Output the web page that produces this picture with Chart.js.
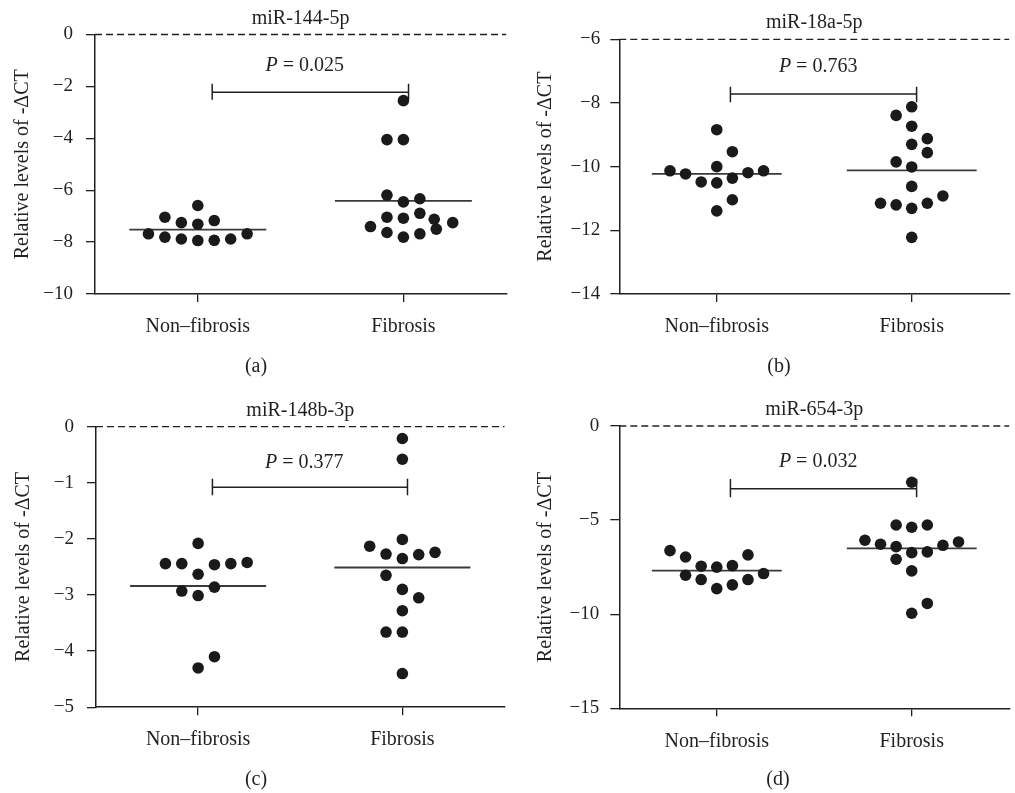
<!DOCTYPE html>
<html>
<head>
<meta charset="utf-8">
<title>miRNA levels, fibrosis vs non-fibrosis</title>
<script src="https://cdn.jsdelivr.net/npm/chart.js@4.4.1/dist/chart.umd.min.js"></script>
<style>
  html, body { margin: 0; padding: 0; background: #fff; }
  #wrap { position: relative; width: 1015px; height: 793px; overflow: hidden; }
  canvas { position: absolute; }
</style>
</head>
<body>
<div id="wrap">
  <canvas id="pa" width="512" height="390" style="left:0;top:0"></canvas>
  <canvas id="pb" width="503" height="390" style="left:512px;top:0"></canvas>
  <canvas id="pc" width="512" height="403" style="left:0;top:390px"></canvas>
  <canvas id="pd" width="503" height="403" style="left:512px;top:390px"></canvas>
</div>
<script>
const groups = ['Non–fibrosis', 'Fibrosis'];
const yTitle = 'Relative levels of -ΔCT';

// miR-144-5p  [x position in group units, value]
const a144Non = [[1.00,-6.59],[0.84,-7.04],[0.92,-7.25],[1.00,-7.31],[1.08,-7.17],[0.76,-7.68],
                 [0.84,-7.81],[0.92,-7.88],[1.00,-7.94],[1.08,-7.93],[1.16,-7.88],[1.24,-7.68]];
const a144Fib = [[2.00,-2.55],[1.92,-4.05],[2.00,-4.05],[1.92,-6.19],[2.00,-6.45],[2.08,-6.33],
                 [1.92,-7.04],[2.00,-7.08],[2.08,-6.89],[2.15,-7.12],[2.24,-7.25],[1.84,-7.40],
                 [1.92,-7.63],[2.00,-7.81],[2.08,-7.68],[2.16,-7.50]];
const a144Means = [-7.52, -6.41];
const a144Ticks = [-10, -8, -6, -4, -2, 0];

// miR-18a-5p
const a18Non = [[1.00,-8.84],[1.08,-9.53],[1.00,-10.00],[0.76,-10.13],[0.84,-10.23],[0.92,-10.48],
                [1.00,-10.51],[1.08,-10.36],[1.16,-10.19],[1.24,-10.13],[1.08,-11.04],[1.00,-11.39]];
const a18Fib = [[2.00,-8.12],[1.92,-8.39],[2.00,-8.73],[2.08,-9.12],[2.00,-9.30],[2.08,-9.56],
                [1.92,-9.85],[2.00,-10.01],[2.00,-10.62],[2.16,-10.92],[1.84,-11.15],[1.92,-11.20],
                [2.00,-11.31],[2.08,-11.15],[2.00,-12.22]];
const a18Means = [-10.23, -10.12];
const a18Ticks = [-14, -12, -10, -8, -6];

// miR-148b-3p
const a148Non = [[1.00,-2.08],[0.84,-2.44],[0.92,-2.44],[1.08,-2.46],[1.16,-2.44],[1.24,-2.42],
                 [1.00,-2.63],[1.08,-2.86],[0.92,-2.93],[1.00,-3.01],[1.08,-4.10],[1.00,-4.30]];
const a148Fib = [[2.00,-0.21],[2.00,-0.58],[2.00,-2.01],[1.84,-2.13],[1.92,-2.27],[2.00,-2.35],
                 [2.08,-2.28],[2.16,-2.24],[1.92,-2.65],[2.00,-2.90],[2.08,-3.05],[2.00,-3.28],
                 [1.92,-3.66],[2.00,-3.66],[2.00,-4.40]];
const a148Means = [-2.84, -2.51];
const a148Ticks = [-5, -4, -3, -2, -1, 0];

// miR-654-3p
const a654Non = [[0.76,-6.62],[0.84,-6.96],[1.16,-6.85],[0.92,-7.45],[1.00,-7.50],[1.08,-7.42],
                 [0.84,-7.93],[1.24,-7.84],[0.92,-8.16],[1.16,-8.16],[1.08,-8.44],[1.00,-8.64]];
const a654Fib = [[2.00,-2.99],[1.92,-5.26],[2.00,-5.38],[2.08,-5.26],[1.76,-6.07],[1.84,-6.28],
                 [1.92,-6.41],[2.16,-6.34],[2.24,-6.16],[2.00,-6.73],[2.08,-6.69],[1.92,-7.08],
                 [2.00,-7.70],[2.08,-9.43],[2.00,-9.95]];
const a654Means = [-7.68, -6.50];
const a654Ticks = [-15, -10, -5, 0];

// p values and where the comparison bracket sits: [bar top, bar, bar bottom]
const pValues = ['0.025', '0.763', '0.377', '0.032'];
const pTextY = [-1.22, -6.86, -0.64, -1.89];
const brackets = [[-1.90, -2.23, -2.51], [-7.49, -7.72, -7.98], [-0.93, -1.08, -1.22], [-2.81, -3.33, -3.79]];

const ink = '#231f20';
const serif = "'Liberation Serif', 'Times New Roman', serif";

// pixel layout of each panel
const panels = [
  { id: 'pa', title: 'miR-144-5p',  tag: '(a)', non: a144Non, fib: a144Fib, means: a144Means, ticks: a144Ticks,
    yW: 95,    right: 509,   top: 34.5, bottom: 294,   yPad: 13, tPad: 10.3, tagX: 256, tagY: 367 },
  { id: 'pb', title: 'miR-18a-5p',  tag: '(b)', non: a18Non,  fib: a18Fib,  means: a18Means,  ticks: a18Ticks,
    yW: 107.3, right: 502,   top: 39.3, bottom: 294,   yPad: 10, tPad: 21.6, tagX: 267, tagY: 367 },
  { id: 'pc', title: 'miR-148b-3p', tag: '(c)', non: a148Non, fib: a148Fib, means: a148Means, ticks: a148Ticks,
    yW: 96,    right: 504.5, top: 36.7, bottom: 317.2, yPad: 13, tPad: 11.9, tagX: 256, tagY: 390 },
  { id: 'pd', title: 'miR-654-3p',  tag: '(d)', non: a654Non, fib: a654Fib, means: a654Means, ticks: a654Ticks,
    yW: 107.3, right: 502,   top: 36,   bottom: 318.3, yPad: 11, tPad: 21.6, tagX: 266, tagY: 390 }
];

const xAxisH = 50;

function annotPlugin(p, i) {
  return {
    id: 'annot' + i,
    afterDraw(chart) {
      const { ctx, chartArea, scales: { x, y } } = chart;
      ctx.save();
      ctx.fillStyle = ink;
      ctx.font = '20px ' + serif;
      ctx.textAlign = 'center';
      ctx.textBaseline = 'alphabetic';
      ctx.fillText(p.title, (chartArea.left + chartArea.right) / 2, chartArea.top - 11);
      ctx.textBaseline = 'middle';
      ctx.fillText(p.tag, p.tagX, p.tagY);

      // "P = ..." with italic P
      const px = x.getPixelForValue(1.52), py = y.getPixelForValue(pTextY[i]);
      const it = 'italic 20px ' + serif, rm = '20px ' + serif;
      const rest = ' = ' + pValues[i];
      ctx.font = it; const w1 = ctx.measureText('P').width;
      ctx.font = rm; const w2 = ctx.measureText(rest).width;
      const sx = px - (w1 + w2) / 2;
      ctx.textAlign = 'left';
      ctx.font = it; ctx.fillText('P', sx, py);
      ctx.font = rm; ctx.fillText(rest, sx + w1, py);
      ctx.restore();
    }
  };
}

panels.forEach((p, i) => {
  const canvas = document.getElementById(p.id);
  const W = canvas.width, H = canvas.height;
  const yMin = p.ticks[0], yMax = p.ticks[p.ticks.length - 1];
  const toPts = arr => arr.map(d => ({ x: d[0], y: d[1] }));
  const meanLine = (c, m) => [{ x: c - 0.333, y: m }, { x: c + 0.333, y: m }];
  const b = brackets[i], bl = 1.07, br = 2.025;

  new Chart(canvas, {
    type: 'scatter',
    data: {
      datasets: [
        { data: toPts(p.non).concat(toPts(p.fib)), pointRadius: 5.8, pointHoverRadius: 5.8,
          backgroundColor: '#1a1a1a', borderWidth: 0 },
        { data: meanLine(1, p.means[0]), showLine: true, pointRadius: 0, borderColor: '#3a3a3a', borderWidth: 1.8 },
        { data: meanLine(2, p.means[1]), showLine: true, pointRadius: 0, borderColor: '#3a3a3a', borderWidth: 1.8 },
        { data: [{ x: bl, y: b[0] }, { x: bl, y: b[2] }, { x: bl, y: b[1] }, { x: br, y: b[1] },
                 { x: br, y: b[0] }, { x: br, y: b[2] }],
          showLine: true, pointRadius: 0, borderColor: ink, borderWidth: 1.5 },
        { data: [{ x: 0.5, y: yMax }, { x: 2.5, y: yMax }], showLine: true, pointRadius: 0,
          borderColor: ink, borderWidth: 1.3, borderDash: [7, 4], clip: false }
      ]
    },
    options: {
      responsive: false,
      animation: false,
      devicePixelRatio: 1,
      events: [],
      layout: { padding: { left: 0, top: p.top, right: W - p.right, bottom: H - p.bottom - xAxisH } },
      plugins: { legend: { display: false }, tooltip: { enabled: false } },
      scales: {
        x: {
          type: 'linear', min: 0.5, max: 2.5,
          afterBuildTicks: s => { s.ticks = groups.map((g, k) => ({ value: k + 1 })); },
          afterFit: s => { s.height = xAxisH; },
          grid: { drawOnChartArea: false, drawTicks: true, tickLength: 8, color: ink, lineWidth: 1.3 },
          border: { display: true, color: ink, width: 1.5 },
          ticks: { padding: 13, autoSkip: false, maxRotation: 0, color: ink,
                   font: { family: serif, size: 20 },
                   callback: v => groups[Math.round(v) - 1] }
        },
        y: {
          min: yMin, max: yMax,
          afterBuildTicks: s => { s.ticks = p.ticks.map(v => ({ value: v })); },
          afterFit: s => { s.width = p.yW; },
          grid: { drawOnChartArea: false, drawTicks: true, tickLength: 9, color: ink, lineWidth: 1.3 },
          border: { display: true, color: ink, width: 1.5 },
          ticks: { padding: p.yPad, color: ink, font: { family: serif, size: 19 },
                   callback: v => v < 0 ? '\u2212' + Math.abs(v) : String(v) },
          title: { display: true, text: yTitle, color: ink, font: { family: serif, size: 20 },
                   padding: { top: p.tPad, bottom: 0 } }
        }
      }
    },
    plugins: [annotPlugin(p, i)]
  });
});
</script>
</body>
</html>
